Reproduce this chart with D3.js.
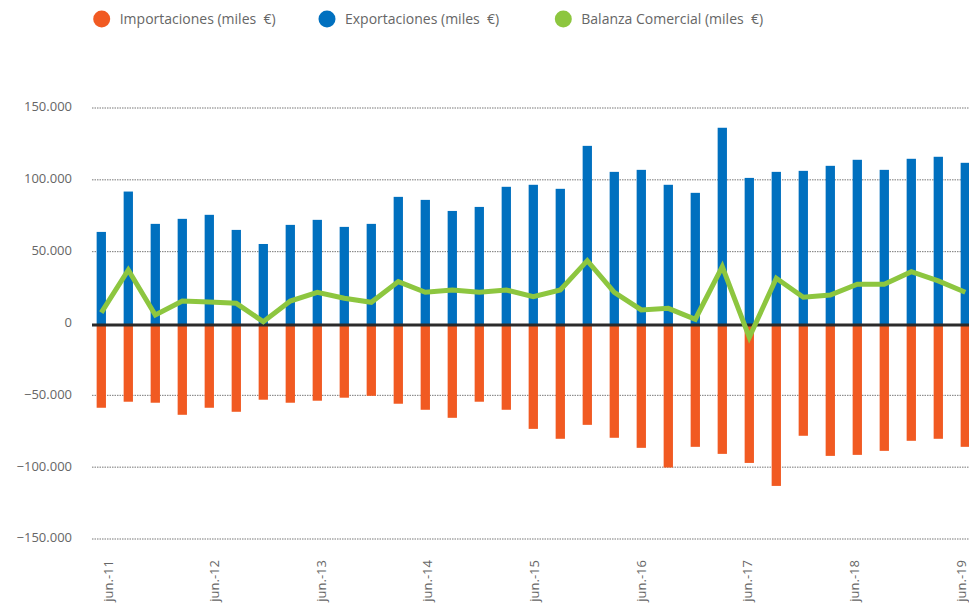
<!DOCTYPE html>
<html><head><meta charset="utf-8">
<script src="https://cdn.jsdelivr.net/npm/d3@7"></script>
<style>
body{margin:0;background:#fff;}
svg{display:block;font-family:"Open Sans","Noto Sans",sans-serif;}
text{white-space:pre;}
</style></head>
<body><svg id="c" width="969" height="608"></svg>
<script>
const periods = ["jun.-11","sep.-11","dic.-11","mar.-12","jun.-12","sep.-12","dic.-12","mar.-13","jun.-13","sep.-13","dic.-13","mar.-14","jun.-14","sep.-14","dic.-14","mar.-15","jun.-15","sep.-15","dic.-15","mar.-16","jun.-16","sep.-16","dic.-16","mar.-17","jun.-17","sep.-17","dic.-17","mar.-18","jun.-18","sep.-18","dic.-18","mar.-19","jun.-19"];
const exportaciones = [63400,91500,69000,72500,75300,64800,55000,68300,71800,66900,69000,87800,85700,78000,80800,94800,96200,93400,123300,105200,106600,96200,90600,135900,101000,105200,105900,109400,113600,106600,114300,115700,111500];
const importaciones = [-58300,-54100,-54800,-63200,-58300,-61100,-52700,-54800,-53400,-51300,-50000,-55500,-59700,-65300,-54100,-59700,-73000,-79900,-70200,-79200,-86200,-99900,-85500,-90400,-96700,-112700,-77800,-91800,-91100,-88300,-81300,-79900,-85500];
const balanza = [7200,36900,5600,15300,14600,13700,900,15300,21400,17200,14400,28800,21400,23000,21400,23000,18300,23000,43400,21400,9100,10200,2600,39200,-10000,31100,17900,19500,27000,27000,35700,29300,21400];
const yTicks = [150000,100000,50000,0,-50000,-100000,-150000];
const tickPeriods = ["jun.-11","jun.-12","jun.-13","jun.-14","jun.-15","jun.-16","jun.-17","jun.-18","jun.-19"];
const seriesNames = ["Importaciones (miles  €)","Exportaciones (miles  €)","Balanza Comercial (miles  €)"];
const colors = ["#f15a22","#0070bf","#8dc63f"];

const svg = d3.select("#c");
const x = d3.scalePoint().domain(periods).range([101.3, 965.3]);
const xLab = d3.scalePoint().domain(tickPeriods).range([108, 961]);
const y = d3.scaleLinear().domain([-150000,150000]).range([538.5,107.5]);
const fmt = v => d3.format(",")(v).replace(/,/g,".");

// grid
svg.append("g").selectAll("line").data(yTicks.filter(d=>d!==0)).join("line")
  .attr("x1",92).attr("x2",969).attr("y1",d=>y(d)+0.5).attr("y2",d=>y(d)+0.5)
  .attr("stroke","#777").attr("stroke-width",1).attr("stroke-dasharray","1.5,1");
// y labels
svg.append("g").selectAll("text").data(yTicks).join("text")
  .attr("x",72).attr("y",d=>y(d)).attr("dy","0.3em").attr("text-anchor","end")
  .attr("font-size",13).attr("fill","#666").text(fmt);

const bw = 9.3;
svg.append("g").selectAll("rect").data(exportaciones).join("rect")
  .attr("x",(d,i)=>x(periods[i])-bw/2).attr("width",bw)
  .attr("y",d=>y(d)).attr("height",d=>y(0)-y(d)+2).attr("fill",colors[1]);
svg.append("g").selectAll("rect").data(importaciones).join("rect")
  .attr("x",(d,i)=>x(periods[i])-bw/2).attr("width",bw)
  .attr("y",y(0)+1).attr("height",d=>y(d)-y(0)).attr("fill",colors[0]);

// zero line
svg.append("line").attr("x1",92).attr("x2",969).attr("y1",y(0)+2).attr("y2",y(0)+2)
  .attr("stroke","#2b2b2b").attr("stroke-width",3);

// balance line
svg.append("path").datum(balanza)
  .attr("d",d3.line().x((d,i)=>x(periods[i])).y(d=>y(d)))
  .attr("fill","none").attr("stroke",colors[2]).attr("stroke-width",5)
  .attr("stroke-linejoin","miter");

// x labels
svg.append("g").selectAll("text").data(tickPeriods).join("text")
  .attr("transform",d=>`translate(${xLab(d)},560) rotate(-90)`)
  .attr("text-anchor","end").attr("dy","0.35em")
  .attr("font-size",13).attr("fill","#666").text(d=>d);

// legend
const legX = [101.7,327,563.3];
const lg = svg.append("g").selectAll("g").data(seriesNames).join("g")
  .attr("transform",(d,i)=>`translate(${legX[i]},19)`);
lg.append("circle").attr("r",8.5).attr("fill",(d,i)=>colors[i]);
lg.append("text").attr("x",18).attr("dy","0.35em").attr("font-size",14)
  .attr("fill","#666").text(d=>d);
</script></body></html>
